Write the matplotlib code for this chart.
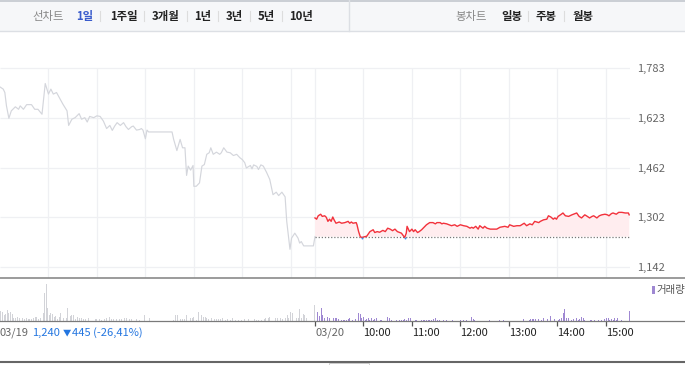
import numpy as np
import matplotlib
matplotlib.use('Agg')
import matplotlib.pyplot as plt
from matplotlib.lines import Line2D
from matplotlib.patches import Rectangle

plt.rcParams['font.family'] = ['Noto Sans CJK KR', 'DejaVu Sans']

# ---- data (minutes from 09:00; day 2 minutes are relative to its own 09:00) ----
prev_close = 1240
price_ticks = [1142, 1302, 1462, 1623, 1783]
price_labels = ['1,142', '1,302', '1,462', '1,623', '1,783']

day1_min = [0, 4, 6, 8, 11, 14, 19, 23, 25, 29, 33, 39, 43, 47, 52, 56, 60, 63, 66, 70,
            74, 78, 83, 85, 89, 93, 98, 101, 105, 108, 111, 116, 120, 124, 128, 132, 136,
            139, 142, 145, 149, 153, 156, 159, 163, 165, 169, 173, 175, 177, 180, 182, 184,
            213, 215, 219, 223, 226, 229, 231, 233, 236, 239, 240, 243, 247, 250, 253, 256,
            259, 261, 264, 268, 272, 274, 277, 281, 285, 289, 293, 297, 300, 303, 305, 310,
            312, 314, 318, 320, 323, 326, 330, 334, 338, 342, 345, 349, 353, 355, 359, 361,
            365, 369, 371, 373, 376, 388, 390]
day1_price = [1722, 1715, 1704, 1661, 1621, 1645, 1658, 1650, 1661, 1650, 1665, 1665, 1650,
              1650, 1634, 1733, 1699, 1715, 1699, 1704, 1685, 1666, 1645, 1598, 1618, 1623,
              1636, 1618, 1623, 1609, 1627, 1623, 1629, 1627, 1612, 1588, 1598, 1582, 1596,
              1607, 1598, 1607, 1594, 1585, 1594, 1596, 1583, 1585, 1588, 1583, 1555, 1583,
              1577, 1577, 1553, 1517, 1553, 1526, 1526, 1437, 1467, 1454, 1469, 1402, 1402,
              1413, 1467, 1472, 1505, 1510, 1526, 1505, 1512, 1505, 1510, 1526, 1512, 1510,
              1501, 1505, 1494, 1488, 1478, 1461, 1469, 1458, 1471, 1466, 1456, 1471, 1467,
              1447, 1424, 1375, 1383, 1372, 1383, 1368, 1289, 1199, 1235, 1251, 1235, 1219,
              1224, 1210, 1210, 1240]

day2_min = [0, 2, 4, 7, 9, 12, 14, 16, 18, 20, 22, 24, 26, 30, 33, 37, 41, 43, 45, 47, 51,
            52, 54, 56, 58, 62, 64, 68, 72, 74, 77, 80, 84, 87, 90, 93, 96, 99, 102, 105, 107,
            111, 113, 114, 117, 120, 122, 124, 127, 129, 132, 135, 138, 142, 146, 149, 151,
            155, 157, 159, 163, 166, 169, 173, 176, 180, 184, 188, 192, 194, 196, 199, 202,
            204, 208, 210, 213, 217, 225, 229, 235, 239, 241, 246, 250, 254, 259, 262, 266,
            269, 272, 277, 279, 283, 287, 289, 292, 295, 297, 299, 301, 305, 307, 310, 314,
            318, 322, 324, 327, 330, 334, 336, 340, 343, 345, 349, 352, 355, 359, 362, 364,
            367, 369, 373, 376, 380, 384, 388, 389]
day2_price = [1300, 1296, 1307, 1312, 1305, 1307, 1302, 1289, 1296, 1289, 1303, 1292, 1283,
              1287, 1283, 1285, 1289, 1283, 1287, 1283, 1285, 1278, 1256, 1240, 1237, 1240,
              1241, 1256, 1262, 1253, 1256, 1254, 1260, 1256, 1267, 1264, 1259, 1264, 1256,
              1253, 1251, 1237, 1251, 1273, 1256, 1264, 1256, 1262, 1253, 1256, 1262, 1270,
              1278, 1285, 1285, 1281, 1285, 1285, 1281, 1283, 1281, 1278, 1275, 1278, 1273,
              1278, 1275, 1273, 1267, 1270, 1267, 1273, 1264, 1275, 1267, 1273, 1267, 1264,
              1264, 1270, 1273, 1270, 1278, 1273, 1275, 1275, 1283, 1275, 1281, 1278, 1289,
              1285, 1289, 1294, 1296, 1307, 1303, 1296, 1300, 1296, 1305, 1312, 1316, 1307,
              1305, 1310, 1314, 1316, 1305, 1300, 1310, 1307, 1300, 1305, 1307, 1300, 1307,
              1310, 1312, 1310, 1307, 1314, 1316, 1312, 1318, 1318, 1316, 1316, 1310]

vol1_min = [1, 3, 5, 7, 9, 11, 13, 15, 17, 19, 22, 24, 26, 28, 30, 33, 35, 37, 39, 41, 44, 45,
            48, 50, 52, 54, 55, 57, 59, 61, 63, 65, 67, 69, 71, 74, 75, 78, 79, 82, 84, 87, 89,
            91, 93, 96, 98, 101, 103, 106, 109, 118, 120, 123, 126, 129, 132, 135, 138, 141,
            144, 148, 151, 154, 157, 160, 163, 169, 173, 179, 182, 185, 215, 217, 220, 223,
            226, 229, 231, 234, 236, 238, 240, 243, 246, 249, 252, 254, 256, 258, 260, 262,
            265, 268, 271, 273, 276, 279, 282, 285, 288, 291, 295, 299, 303, 308, 312, 315,
            317, 320, 324, 327, 329, 332, 334, 338, 341, 343, 347, 350, 353, 356, 357, 360,
            362, 364, 367, 369, 371, 373, 376, 377, 379, 389]
vol1 = [10, 8.3, 5.7, 6.3, 10.3, 7.3, 8.3, 6.3, 3, 2.3, 4, 3, 4, 3, 1.7, 3, 1.3, 1.3, 1.7, 2.3,
        3.3, 3.3, 1.7, 3, 5.7, 7.3, 28, 36.3, 12.3, 5.7, 7.3, 6.3, 4, 5, 1.7, 4, 7.3, 4, 2.3,
        3, 12.3, 5, 5.7, 5.7, 1.7, 3.3, 2.3, 2.3, 1.3, 1.3, 2.3, 1.3, 2, 1.3, 1, 1.7, 3, 4,
        1.3, 1.3, 1.3, 2, 1.3, 2.3, 2.3, 1.3, 1.7, 1.7, 1, 5.3, 2.3, 2.3, 0.7, 5.3, 5.3, 1.3,
        1.7, 1.3, 5.7, 3, 3, 2.3, 4, 1, 9, 5.7, 3.3, 3.3, 3, 1.7, 2.3, 3, 1.3, 1.7, 1.3, 1.7,
        2.3, 1, 1.7, 1, 2.3, 1, 1, 1, 1.3, 1.3, 1, 1.7, 1, 1, 1, 1.7, 2.3, 3, 4, 2.3, 3, 2.3,
        3, 2, 2.3, 5.7, 3, 9, 8, 4, 3, 3, 11.3, 2.3, 6.3, 5.7, 2.3, 15.7]

vol2_min = [0, 3, 5, 7.5, 9.5, 11.6, 13.6, 15.7, 17.8, 19.8, 22.7, 24.8, 27, 29, 33, 35, 37,
            39, 41, 43, 46, 50, 52, 54, 56, 58, 60, 62, 64, 66, 68, 70, 72, 74, 76, 78, 80.5,
            82.6, 89.6, 92, 95, 101, 105, 107, 109, 111, 113.5, 115.6, 117.7, 124, 126, 130,
            132, 134, 136, 138, 140, 142, 144.5, 146.6, 148.6, 151.5, 154, 159, 163, 170.5,
            179.6, 183.7, 187, 194, 196, 198, 216, 229, 233, 247.6, 258.7, 265, 267, 269, 271,
            273, 276.5, 280.6, 282.7, 287.6, 291, 297, 301, 303, 305.4, 307.4, 309.5, 311.6,
            313.6, 315.7, 317.8, 319.8, 321.9, 324, 326, 328, 330, 332, 334, 340.5, 342.5,
            346.6, 350.8, 354.9, 359, 361, 363, 365, 367, 369, 371, 373, 375, 377.6, 379.7, 389]
vol2 = [17.3, 8.3, 5, 12.3, 5.7, 3, 8.3, 4, 2.3, 1, 3, 2.3, 3, 1.7, 1, 1, 1, 1, 1.7, 3, 1,
        1.3, 1.3, 7.3, 6.3, 2.3, 3.3, 1, 1.7, 2.3, 1, 2.3, 1, 1.7, 2.3, 1, 1, 1, 3.3, 2.3, 1,
        1, 1, 1, 1, 1.7, 1, 2.3, 2.3, 1, 1, 1, 1, 1, 1, 1, 1, 1, 1, 1.7, 2.3, 1, 1, 1, 1, 1,
        1, 1, 1, 3.3, 1.7, 1, 1, 1, 1, 1.3, 1.3, 1, 1.3, 1.7, 1.3, 1.3, 1.3, 1, 2.3, 1.7, 4.3,
        1.3, 1, 1.7, 3, 7.3, 11.3, 2.3, 2.3, 2.3, 1, 1.7, 1, 2.3, 1, 1.7, 3.3, 2.3, 1, 1, 1,
        1, 1, 1, 1.7, 3, 2.3, 1, 1.7, 1, 2.3, 1, 2.3, 3, 1, 9.7]

day2_ticks = [0, 60, 120, 180, 240, 300, 360]
day2_tick_labels = ['03/20', '10:00', '11:00', '12:00', '13:00', '14:00', '15:00']
summary_date = '03/19'
summary_close = '1,240'
summary_change = '445 (-26,41%)'

# ---- layout helpers (pixels in a 685x365 canvas) ----
W, H = 685, 365
DAY = 390


def fx(px):
    return px / W


def fy(py):
    return 1 - py / H


fig = plt.figure(figsize=(W / 100, H / 100), dpi=100)

# header bar
fig.patches.append(Rectangle((0, fy(31)), 1, fy(0) - fy(31), transform=fig.transFigure,
                             facecolor='#f6f7f9', edgecolor='none', zorder=0))
fig.add_artist(Line2D([0, 1], [fy(0.7), fy(0.7)], color='#c3c7ce', lw=1.2))
fig.add_artist(Line2D([0, 1], [fy(31), fy(31)], color='#dcdfe4', lw=1))
fig.add_artist(Line2D([fx(349), fx(349)], [fy(0), fy(31)], color='#dcdfe4', lw=1))

tabs = [('선차트', 32, '#888888', 'normal'), ('1일', 76, '#3a5ccc', 'bold'),
        ('1주일', 110, '#222222', 'bold'), ('3개월', 152, '#222222', 'bold'),
        ('1년', 194, '#222222', 'bold'), ('3년', 226, '#222222', 'bold'),
        ('5년', 258, '#222222', 'bold'), ('10년', 289, '#222222', 'bold'),
        ('봉차트', 455, '#888888', 'normal'), ('일봉', 501, '#222222', 'bold'),
        ('주봉', 536, '#222222', 'bold'), ('월봉', 572, '#222222', 'bold')]
for label, px, col, wt in tabs:
    fig.text(fx(px), fy(16.3), label, color=col, fontsize=8.2, fontweight=wt,
             ha='left', va='center')
for px in [100, 144, 187, 218, 250, 282, 528, 564]:
    fig.add_artist(Line2D([fx(px), fx(px)], [fy(11), fy(21)], color='#dddddd', lw=0.8))

# ---- price panel ----
top_px, bot_px = 32, 277.5
scale = (price_ticks[-1] - price_ticks[0]) / (267 - 68)
ylo = price_ticks[0] - (bot_px - 267) * scale
yhi = price_ticks[-1] + (68 - top_px) * scale

ax = fig.add_axes([0, fy(bot_px), fx(630), fy(top_px) - fy(bot_px)])
ax.set_xlim(0, 2 * DAY)
ax.set_ylim(ylo, yhi)
for s in ax.spines.values():
    s.set_visible(False)
ax.set_xticks([])
ax.yaxis.tick_right()
ax.set_yticks(price_ticks)
ax.set_yticklabels(price_labels)
ax.tick_params(axis='y', length=0, pad=5, labelsize=8, labelcolor='#666666')

grid_x = [60, 120, 180, 240, 300, 360, DAY] + [DAY + t for t in day2_ticks[1:]]
ax.hlines(price_ticks, 0, 2 * DAY, color='#eff0f3', lw=0.9, zorder=0)
ax.vlines(grid_x, ylo, price_ticks[-1], color='#eff0f3', lw=0.9, zorder=0)

ax.plot(day1_min, day1_price, color='#d4d6dc', lw=0.85, zorder=2)

d2x = np.array(day2_min) + DAY
d2y = np.array(day2_price)
ax.fill_between(d2x, d2y, prev_close, where=d2y >= prev_close, interpolate=True,
                color='#ffedef', lw=0, zorder=1)
ax.hlines(prev_close, DAY, 2 * DAY, color='#777777', lw=0.9, linestyles=(0, (1, 1.5)), zorder=2)
ax.plot(d2x, d2y, color='#f2323c', lw=1.0, zorder=3)
low = d2y < prev_close
ax.scatter(d2x[low], d2y[low], s=2, color='#3d8de8', lw=0, zorder=4)

# ---- volume panel ----
vtop, vbot = 278, 320.5
axv = fig.add_axes([0, fy(vbot), fx(630), fy(vtop) - fy(vbot)])
axv.set_xlim(0, 2 * DAY)
axv.set_ylim(0, vbot - vtop)
for s in axv.spines.values():
    s.set_visible(False)
axv.set_yticks([])
axv.bar(vol1_min, vol1, width=1.2, color='#d2d3d8', lw=0)
axv.bar(np.array(vol2_min) + DAY, vol2, width=1.2, color='#9f88d2', lw=0)
axv.set_xticks([DAY + t for t in day2_ticks])
axv.tick_params(axis='x', length=3.8, width=0.9, color='#555555', labelbottom=False)

for t, lab in zip(day2_ticks, day2_tick_labels):
    col = '#666666' if '/' in lab else '#222222'
    axv.annotate(lab, xy=(DAY + t, 0), xycoords=('data', 'axes fraction'),
                 xytext=(0, -12.5), textcoords='offset pixels',
                 ha='left', va='center', fontsize=8, color=col)

fig.text(fx(0), fy(333), summary_date, fontsize=8, color='#666666', ha='left', va='center')
fig.text(fx(32), fy(333), summary_close, fontsize=8, color='#2476e0', ha='left', va='center')
fig.text(fx(62.5), fy(333), '\u25bc', fontsize=6, color='#2476e0', ha='left', va='center')
fig.text(fx(71.5), fy(333), summary_change, fontsize=8, color='#2476e0', ha='left', va='center')

# legend
fig.patches.append(Rectangle((fx(651.5), fy(294)), fx(3), fy(286) - fy(294),
                             transform=fig.transFigure, facecolor='#9f88d2', edgecolor='none'))
fig.text(fx(656.5), fy(290), '거래량', fontsize=7.5, color='#555555', ha='left', va='center')

# separator lines
fig.add_artist(Line2D([0, 1], [fy(277.8), fy(277.8)], color='#8a8a8a', lw=1.2))
fig.add_artist(Line2D([0, 1], [fy(320.6), fy(320.6)], color='#7a7a7a', lw=0.9))
fig.add_artist(Line2D([0, 1], [fy(361.8), fy(361.8)], color='#666666', lw=1.5))
fig.patches.append(Rectangle((fx(329), fy(365)), fx(40), fy(362.5) - fy(365),
                             transform=fig.transFigure, facecolor='white',
                             edgecolor='#c8c8c8', lw=0.6))

fig.savefig('out.png', dpi=100)
